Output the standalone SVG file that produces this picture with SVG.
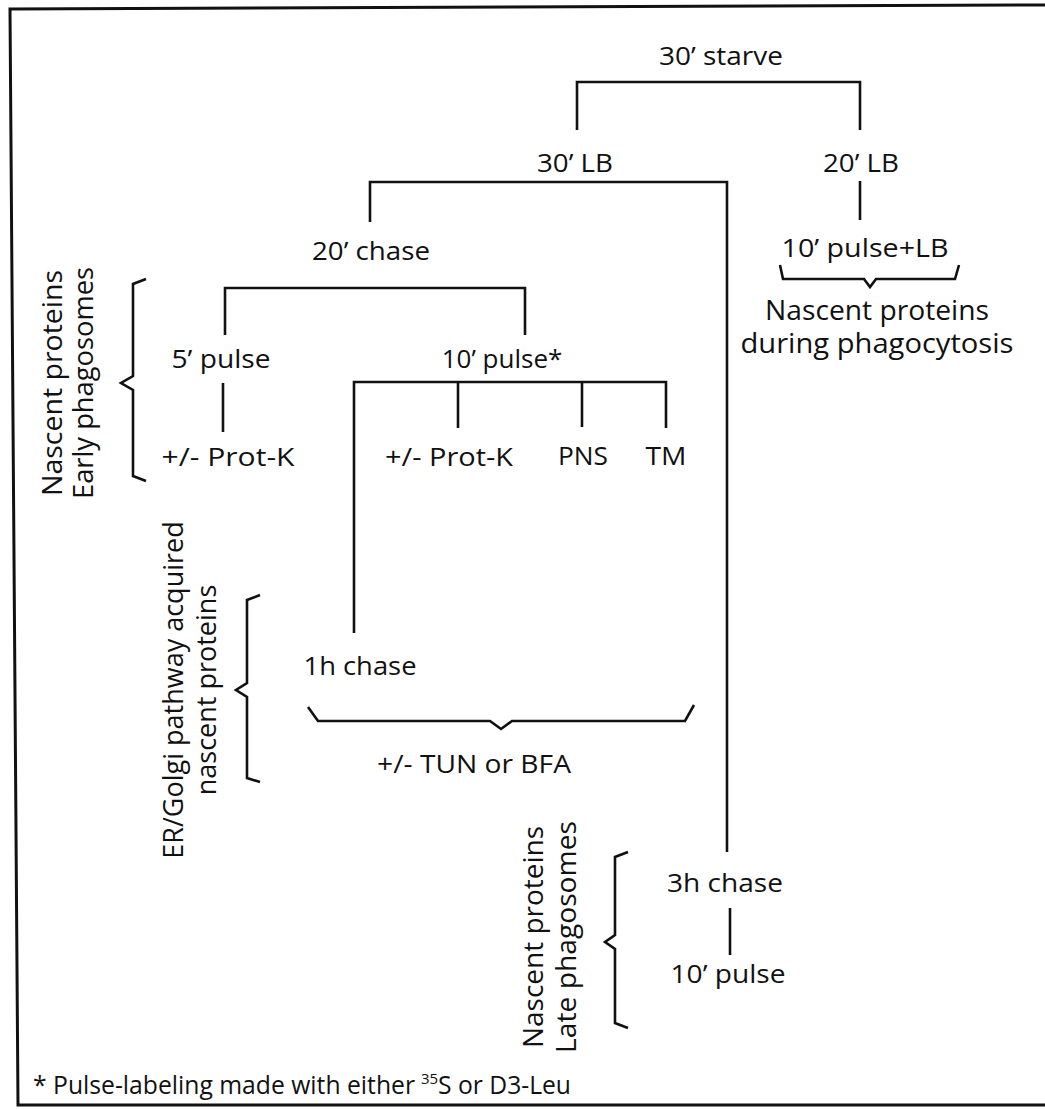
<svg xmlns="http://www.w3.org/2000/svg" width="1045" height="1109" viewBox="0 0 1045 1109">
<style>
  .lbl { font-family: "Open Sans", "Noto Sans", "Liberation Sans", sans-serif; font-size: 26px; fill: #111; text-anchor: middle; }
  .note { font-family: "Open Sans", "Noto Sans", "Liberation Sans", sans-serif; font-size: 27px; fill: #111; text-anchor: middle; }
  .foot { font-family: "Open Sans", "Noto Sans", "Liberation Sans", sans-serif; font-size: 25px; fill: #111; }
  .sup { font-family: "Open Sans", "Noto Sans", "Liberation Sans", sans-serif; font-size: 15px; fill: #111; }
  .ln { fill: none; stroke: #111; stroke-width: 2.6; stroke-linejoin: miter; stroke-linecap: butt; }
  .border { fill: none; stroke: #111; stroke-width: 3; }
</style>
<rect width="1045" height="1109" fill="#fff"/>
<g id="frame">
  <path class="border" d="M1045,5 L10,9 L18,1105 L1045,1105"/>
</g>
<g id="connectors">
  <path class="ln" d="M577,130 V82 H860 V130"/>
  <path class="ln" d="M370,222 V182 H727 V852"/>
  <path class="ln" d="M860,181 V220"/>
  <path class="ln" d="M780,265 L783,279 H864 L870,287 L876,279 H955 L959,265"/>
  <path class="ln" d="M225,335 V288 H525 V335"/>
  <path class="ln" d="M223,383 V432"/>
  <path class="ln" d="M354,633 V382 H666 V428"/>
  <path class="ln" d="M458,382 V428"/>
  <path class="ln" d="M582,382 V427"/>
  <path class="ln" d="M308,707 L318,721 H490 L501,729 L512,721 H685 L694,705"/>
  <path class="ln" d="M730,908 V955"/>
  <path class="ln" d="M146,279 L133,284 V376 L121,383 L133,390 V476 L146,481"/>
  <path class="ln" d="M260,595 L247,600 V683 L236,690 L247,697 V778 L260,782"/>
  <path class="ln" d="M628,852 L615,857 V935 L605,942 L615,949 V1023 L628,1028"/>
</g>
<g id="n-starve"><text class="lbl" x="721" y="65" textLength="124" lengthAdjust="spacingAndGlyphs">30’ starve</text></g>
<g id="n-30lb"><text class="lbl" x="575" y="172" textLength="76" lengthAdjust="spacingAndGlyphs">30’ LB</text></g>
<g id="n-20lb"><text class="lbl" x="861" y="172" textLength="76" lengthAdjust="spacingAndGlyphs">20’ LB</text></g>
<g id="n-20chase"><text class="lbl" x="371" y="260" textLength="118" lengthAdjust="spacingAndGlyphs">20’ chase</text></g>
<g id="n-pulselb"><text class="lbl" x="865" y="257" textLength="167" lengthAdjust="spacingAndGlyphs">10’ pulse+LB</text></g>
<g id="n-during">
  <text class="note" x="877" y="320" textLength="224" lengthAdjust="spacingAndGlyphs">Nascent proteins</text>
  <text class="note" x="877" y="353" textLength="273" lengthAdjust="spacingAndGlyphs">during phagocytosis</text>
</g>
<g id="n-5pulse"><text class="lbl" x="221" y="368" textLength="99" lengthAdjust="spacingAndGlyphs">5’ pulse</text></g>
<g id="n-10pulsestar"><text class="lbl" x="502" y="368">10’ pulse*</text></g>
<g id="n-protk1"><text class="lbl" x="228" y="466" textLength="133" lengthAdjust="spacingAndGlyphs">+/- Prot-K</text></g>
<g id="n-protk2"><text class="lbl" x="449" y="466" textLength="128" lengthAdjust="spacingAndGlyphs">+/- Prot-K</text></g>
<g id="n-pns"><text class="lbl" x="583" y="465" textLength="50" lengthAdjust="spacingAndGlyphs">PNS</text></g>
<g id="n-tm"><text class="lbl" x="666" y="465" textLength="41" lengthAdjust="spacingAndGlyphs">TM</text></g>
<g id="n-1hchase"><text class="lbl" x="360" y="675" textLength="113" lengthAdjust="spacingAndGlyphs">1h chase</text></g>
<g id="n-tun"><text class="lbl" x="474" y="773" textLength="194" lengthAdjust="spacingAndGlyphs">+/- TUN or BFA</text></g>
<g id="n-3hchase"><text class="lbl" x="725" y="892" textLength="116" lengthAdjust="spacingAndGlyphs">3h chase</text></g>
<g id="n-10pulse"><text class="lbl" x="728" y="983" textLength="115" lengthAdjust="spacingAndGlyphs">10’ pulse</text></g>
<g id="n-early" transform="translate(0,383)">
  <text class="note" transform="translate(62,0) rotate(-90)" x="0" y="0" textLength="226" lengthAdjust="spacingAndGlyphs">Nascent proteins</text>
  <text class="note" transform="translate(93,0) rotate(-90)" x="0" y="0" textLength="232" lengthAdjust="spacingAndGlyphs">Early phagosomes</text>
</g>
<g id="n-ergolgi" transform="translate(0,690)">
  <text class="note" transform="translate(183,0) rotate(-90)" x="0" y="0">ER/Golgi pathway acquired</text>
  <text class="note" transform="translate(216,0) rotate(-90)" x="0" y="0">nascent proteins</text>
</g>
<g id="n-late" transform="translate(0,937)">
  <text class="note" transform="translate(543,0) rotate(-90)" x="0" y="0" textLength="222" lengthAdjust="spacingAndGlyphs">Nascent proteins</text>
  <text class="note" transform="translate(576,0) rotate(-90)" x="0" y="0" textLength="232" lengthAdjust="spacingAndGlyphs">Late phagosomes</text>
</g>
<g id="footnote">
  <text class="foot" x="33" y="1094" textLength="382" lengthAdjust="spacingAndGlyphs">* Pulse-labeling made with either</text>
  <text class="sup" x="421" y="1084">35</text>
  <text class="foot" x="438" y="1094" textLength="133" lengthAdjust="spacingAndGlyphs">S or D3-Leu</text>
</g>
</svg>
